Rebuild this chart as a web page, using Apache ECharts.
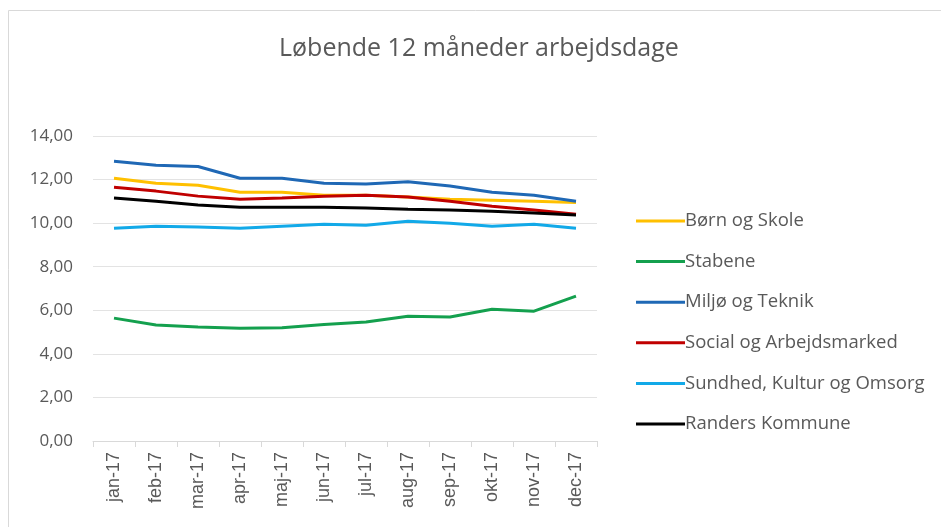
<!DOCTYPE html>
<html><head><meta charset="utf-8">
<script src="https://cdn.jsdelivr.net/npm/echarts@6/dist/echarts.min.js"></script>
<style>html,body{margin:0;padding:0;background:#fff;}#c{width:941px;height:527px;}</style>
</head><body><div id="c"></div>
<script>
const categories = ['jan-17','feb-17','mar-17','apr-17','maj-17','jun-17','jul-17','aug-17','sep-17','okt-17','nov-17','dec-17'];
const bornOgSkole   = [12.06, 11.83, 11.74, 11.42, 11.42, 11.28, 11.28, 11.20, 11.10, 11.05, 11.00, 10.95];
const stabene       = [5.64, 5.32, 5.23, 5.18, 5.20, 5.35, 5.46, 5.73, 5.69, 6.05, 5.96, 6.65];
const miljoOgTeknik = [12.84, 12.66, 12.60, 12.06, 12.06, 11.83, 11.80, 11.90, 11.70, 11.42, 11.28, 11.00];
const socialOgArb   = [11.65, 11.47, 11.24, 11.10, 11.15, 11.24, 11.28, 11.20, 11.00, 10.78, 10.60, 10.41];
const sundhed       = [9.77, 9.86, 9.82, 9.77, 9.86, 9.95, 9.90, 10.09, 10.00, 9.86, 9.95, 9.77];
const randers       = [11.15, 11.00, 10.83, 10.73, 10.73, 10.73, 10.69, 10.64, 10.60, 10.55, 10.46, 10.37];
const seriesNames = ['Børn og Skole','Stabene','Miljø og Teknik','Social og Arbejdsmarked','Sundhed, Kultur og Omsorg','Randers Kommune'];
const seriesData = [bornOgSkole, stabene, miljoOgTeknik, socialOgArb, sundhed, randers];
const colors = ['#FFC000','#14A04E','#1F68B5','#C00000','#12A9E8','#000000'];
const yTicks = [0,2,4,6,8,10,12,14];

const chart = echarts.init(document.getElementById('c'));
chart.setOption({
  animation:false,
  graphic:[{type:'rect',shape:{x:8.5,y:10.5,width:940,height:520},style:{fill:'none',stroke:'#d9d9d9',lineWidth:1},silent:true}],
  title:{text:'Løbende 12 måneder arbejdsdage',left:274,top:31,
    textStyle:{fontFamily:'Open Sans, sans-serif',fontSize:25,fontWeight:'normal',color:'#595959'}},
  grid:{left:93,right:344,top:136,bottom:86},
  legend:{orient:'vertical',left:631,top:206,itemWidth:49,itemHeight:3,icon:'rect',itemGap:20.6,
    textStyle:{fontFamily:'Open Sans, sans-serif',fontSize:18.5,color:'#595959',padding:[0,0,0,-5],lineHeight:20},
    data:seriesNames},
  xAxis:{type:'category',data:categories,boundaryGap:true,
    axisLine:{lineStyle:{color:'#d9d9d9'}},
    axisTick:{show:true,length:6,lineStyle:{color:'#d9d9d9'}},
    axisLabel:{rotate:90,fontFamily:'Liberation Sans, Arial, sans-serif',fontSize:18,color:'#595959',margin:11}},
  yAxis:{type:'value',min:0,max:14,interval:2,
    axisLine:{show:false},axisTick:{show:false},
    splitLine:{lineStyle:{color:'#e3e3e3'}},
    axisLabel:{formatter:v=>yTicks.includes(v)?v.toFixed(2).replace('.',','):'',fontFamily:'Open Sans, sans-serif',fontSize:17,color:'#595959',margin:20}},
  series:seriesNames.map((n,i)=>({name:n,type:'line',data:seriesData[i],symbol:'none',
    lineStyle:{width:3,color:colors[i]},itemStyle:{color:colors[i]}}))
});
</script></body></html>
